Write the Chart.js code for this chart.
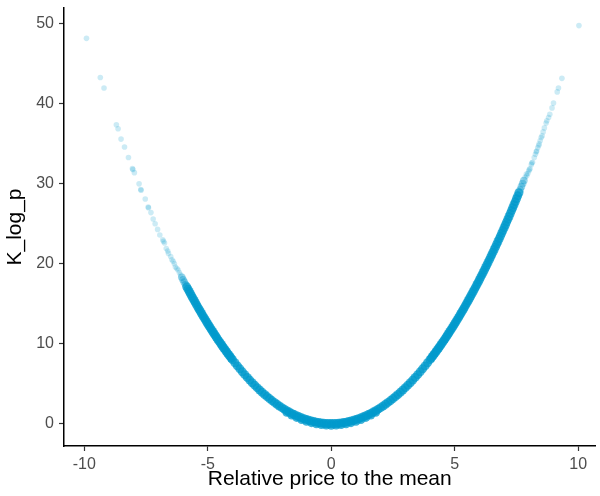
<!DOCTYPE html>
<html>
<head>
<meta charset="utf-8">
<script src="https://cdn.jsdelivr.net/npm/chart.js@4"></script>
<style>
  body { margin: 0; background: #fff; }
</style>
</head>
<body>
<canvas id="c" width="600" height="496"></canvas>
<script>
// tick labels
const xTicks = [-10, -5, 0, 5, 10];
const yTicks = [0, 10, 20, 30, 40, 50];

// sparse points out on the left branch
const leftTailX = [-9.91, -9.35, -9.2, -8.7, -8.63, -8.51, -8.37, -8.21, -8.05, -8.03, -7.97, -7.78, -7.71, -7.7, -7.53, -7.41, -7.4, -7.3, -7.21, -7.13, -7.03, -6.94, -6.82, -6.79, -6.75, -6.68, -6.62, -6.59, -6.5, -6.45, -6.4, -6.35, -6.31, -6.25, -6.2, -6.15, -6.1];
const leftTailY = [48.2, 43.3, 42.0, 37.4, 36.9, 35.6, 34.6, 33.3, 31.9, 31.8, 31.4, 30.0, 29.3, 29.2, 28.1, 27.1, 27.0, 26.4, 25.6, 25.0, 24.3, 23.6, 23.0, 22.8, 22.6, 21.9, 21.6, 21.3, 20.9, 20.5, 20.3, 20.0, 19.6, 19.4, 19.22, 18.91, 18.61];

// sparse points out on the right branch
const rightTailX = [10.03, 9.34, 9.2, 9.15, 9.0, 8.94, 8.85, 8.8, 8.73, 8.7, 8.63, 8.58, 8.54, 8.5, 8.46, 8.42, 8.4, 8.36, 8.32, 8.3, 8.27, 8.22, 8.15, 8.12, 8.1, 8.05, 8.02, 8.0, 7.96, 7.92, 7.9, 7.85];
const rightTailY = [49.8, 43.2, 42.0, 41.5, 40.1, 39.5, 38.7, 38.3, 37.9, 37.6, 37.0, 36.5, 36.0, 35.8, 35.4, 35.0, 34.8, 34.5, 34.1, 34.0, 33.7, 33.3, 32.7, 32.6, 32.4, 31.9, 31.8, 31.6, 31.3, 31.0, 31.21, 30.81];

// where the sparse tails run into the dense band
const midX = [-6.05, -6, -5.95, -5.9, 7.65, 7.7, 7.75, 7.8];
const midY = [18.30, 18.00, 17.70, 17.41, 29.26, 29.65, 30.03, 30.42];

// dense band, left arm
const leftArmX = [-5.85, -5.8, -5.75, -5.7, -5.65, -5.6, -5.55, -5.5, -5.45, -5.4, -5.35, -5.3, -5.25, -5.2, -5.15, -5.1, -5.05, -5, -4.95, -4.9, -4.85, -4.8, -4.75, -4.7, -4.65, -4.6, -4.55, -4.5, -4.45, -4.4, -4.35, -4.3, -4.25, -4.2, -4.15, -4.1, -4.05];
const leftArmY = [17.11, 16.82, 16.53, 16.25, 15.96, 15.68, 15.40, 15.13, 14.85, 14.58, 14.31, 14.05, 13.78, 13.52, 13.26, 13.01, 12.75, 12.50, 12.25, 12.01, 11.76, 11.52, 11.28, 11.05, 10.81, 10.58, 10.35, 10.13, 9.90, 9.68, 9.46, 9.25, 9.03, 8.82, 8.61, 8.41, 8.20];

// dense band, bottom
const bottomX = [-4, -3.9, -3.8, -3.7, -3.6, -3.5, -3.4, -3.3, -3.2, -3.1, -3, -2.9, -2.8, -2.7, -2.6, -2.5, -2.4, -2.3, -2.2, -2.1, -2, -1.9, -1.8, -1.7, -1.6, -1.5, -1.4, -1.3, -1.2, -1.1, -1, -0.9, -0.8, -0.7, -0.6, -0.5, -0.4, -0.3, -0.2, -0.1, 0, 0.1, 0.2, 0.3, 0.4, 0.5, 0.6, 0.7, 0.8, 0.9, 1, 1.1, 1.2, 1.3, 1.4, 1.5, 1.6, 1.7, 1.8, 1.9, 2, 2.1, 2.2, 2.3, 2.4, 2.5, 2.6, 2.7, 2.8, 2.9, 3, 3.1, 3.2, 3.3, 3.4, 3.5, 3.6, 3.7, 3.8, 3.9];
const bottomY = [8.00, 7.61, 7.22, 6.85, 6.48, 6.13, 5.78, 5.45, 5.12, 4.81, 4.50, 4.21, 3.92, 3.65, 3.38, 3.13, 2.88, 2.65, 2.42, 2.21, 2.00, 1.81, 1.62, 1.45, 1.28, 1.13, 0.98, 0.85, 0.72, 0.61, 0.50, 0.41, 0.32, 0.25, 0.18, 0.13, 0.08, 0.05, 0.02, 0.01, 0, 0.01, 0.02, 0.05, 0.08, 0.13, 0.18, 0.25, 0.32, 0.41, 0.50, 0.61, 0.72, 0.85, 0.98, 1.13, 1.28, 1.45, 1.62, 1.81, 2.00, 2.21, 2.42, 2.65, 2.88, 3.13, 3.38, 3.65, 3.92, 4.21, 4.50, 4.81, 5.12, 5.45, 5.78, 6.13, 6.48, 6.85, 7.22, 7.61];

// points sitting just under the bottom of the band
const lowX = [-1.8, -1.6, -1.4, -1.2, -1, -0.8, -0.6, -0.4, -0.2, 0, 0.2, 0.4, 0.6, 0.8, 1, 1.2, 1.4, 1.6, 1.8];
const lowY = [1.42, 1.08, 0.78, 0.52, 0.30, 0.12, -0.02, -0.12, -0.18, -0.20, -0.18, -0.12, -0.02, 0.12, 0.30, 0.52, 0.78, 1.08, 1.42];

// dense band, right arm
const rightArmX = [4, 4.05, 4.1, 4.15, 4.2, 4.25, 4.3, 4.35, 4.4, 4.45, 4.5, 4.55, 4.6, 4.65, 4.7, 4.75, 4.8, 4.85, 4.9, 4.95, 5, 5.05, 5.1, 5.15, 5.2, 5.25, 5.3, 5.35, 5.4, 5.45, 5.5, 5.55, 5.6, 5.65, 5.7, 5.75, 5.8, 5.85, 5.9, 5.95, 6, 6.05, 6.1, 6.15, 6.2, 6.25, 6.3, 6.35, 6.4, 6.45, 6.5, 6.55, 6.6, 6.65, 6.7, 6.75, 6.8, 6.85, 6.9, 6.95, 7, 7.05, 7.1, 7.15, 7.2, 7.25, 7.3, 7.35, 7.4, 7.45, 7.5, 7.55, 7.6];
const rightArmY = [8.00, 8.20, 8.41, 8.61, 8.82, 9.03, 9.25, 9.46, 9.68, 9.90, 10.13, 10.35, 10.58, 10.81, 11.05, 11.28, 11.52, 11.76, 12.01, 12.25, 12.50, 12.75, 13.01, 13.26, 13.52, 13.78, 14.05, 14.31, 14.58, 14.85, 15.13, 15.40, 15.68, 15.96, 16.25, 16.53, 16.82, 17.11, 17.41, 17.70, 18.00, 18.30, 18.61, 18.91, 19.22, 19.53, 19.85, 20.16, 20.48, 20.80, 21.13, 21.45, 21.78, 22.11, 22.45, 22.78, 23.12, 23.46, 23.81, 24.15, 24.50, 24.85, 25.21, 25.56, 25.92, 26.28, 26.65, 27.01, 27.38, 27.75, 28.13, 28.50, 28.88];

function zip(xs, ys) {
  const out = [];
  for (let i = 0; i < Math.min(xs.length, ys.length); i++) out.push({ x: xs[i], y: ys[i] });
  return out;
}

const FONT = "'Liberation Sans', Arial, Helvetica, sans-serif";

const tailPts = zip(leftTailX, leftTailY).concat(zip(rightTailX, rightTailY));
const midPts = zip(midX, midY);
const corePts = zip(leftArmX, leftArmY).concat(zip(bottomX, bottomY), zip(lowX, lowY), zip(rightArmX, rightArmY));

// keep the plot box where ggplot put it: no extra room for edge labels
function noEdgePad(s) {
  s.paddingTop = 0;
  s.paddingBottom = 0;
  s.paddingLeft = 0;
  s.paddingRight = 0;
}

new Chart(document.getElementById('c').getContext('2d'), {
  type: 'scatter',
  data: {
    datasets: [
      {
        label: 'core',
        data: corePts,
        backgroundColor: 'rgba(0,153,204,0.75)',
        pointRadius: 4.5,
        pointBorderWidth: 0,
        borderWidth: 0
      },
      {
        label: 'mid',
        data: midPts,
        backgroundColor: 'rgba(0,153,204,0.4)',
        pointRadius: 3.8,
        pointBorderWidth: 0,
        borderWidth: 0
      },
      {
        label: 'tail',
        data: tailPts,
        backgroundColor: 'rgba(0,153,204,0.2)',
        pointRadius: 2.8,
        pointBorderWidth: 0,
        borderWidth: 0
      }
    ]
  },
  options: {
    responsive: false,
    animation: false,
    events: [],
    layout: { padding: { top: 8, right: 0, bottom: 0, left: 0 } },
    plugins: {
      legend: { display: false },
      tooltip: { enabled: false }
    },
    scales: {
      x: {
        type: 'linear',
        min: -10.82,
        max: 10.70,
        afterBuildTicks: s => { s.ticks = xTicks.map(v => ({ value: v })); },
        afterFit: s => { s.height = 50; noEdgePad(s); },
        grid: { display: true, drawOnChartArea: false, drawTicks: true, tickLength: 5, color: '#333', tickColor: '#333', tickWidth: 1.2 },
        border: { display: true, color: '#000', width: 1.5 },
        ticks: { color: '#4d4d4d', font: { family: FONT, size: 16 }, padding: 4, maxRotation: 0, autoSkip: false },
        title: { display: true, text: 'Relative price to the mean', color: '#000', font: { family: FONT, size: 21 }, padding: { top: 0, bottom: 4 } }
      },
      y: {
        type: 'linear',
        min: -2.8,
        max: 52.0,
        afterBuildTicks: s => { s.ticks = yTicks.map(v => ({ value: v })); },
        afterFit: s => { s.width = 64; noEdgePad(s); },
        grid: { display: true, drawOnChartArea: false, drawTicks: true, tickLength: 5, color: '#333', tickColor: '#333', tickWidth: 1.2 },
        border: { display: true, color: '#000', width: 1.5 },
        ticks: { color: '#4d4d4d', font: { family: FONT, size: 16 }, padding: 5, autoSkip: false },
        title: { display: true, text: 'K_log_p', color: '#000', font: { family: FONT, size: 21 }, padding: { top: 3, bottom: 0 } }
      }
    }
  }
});
</script>
</body>
</html>
